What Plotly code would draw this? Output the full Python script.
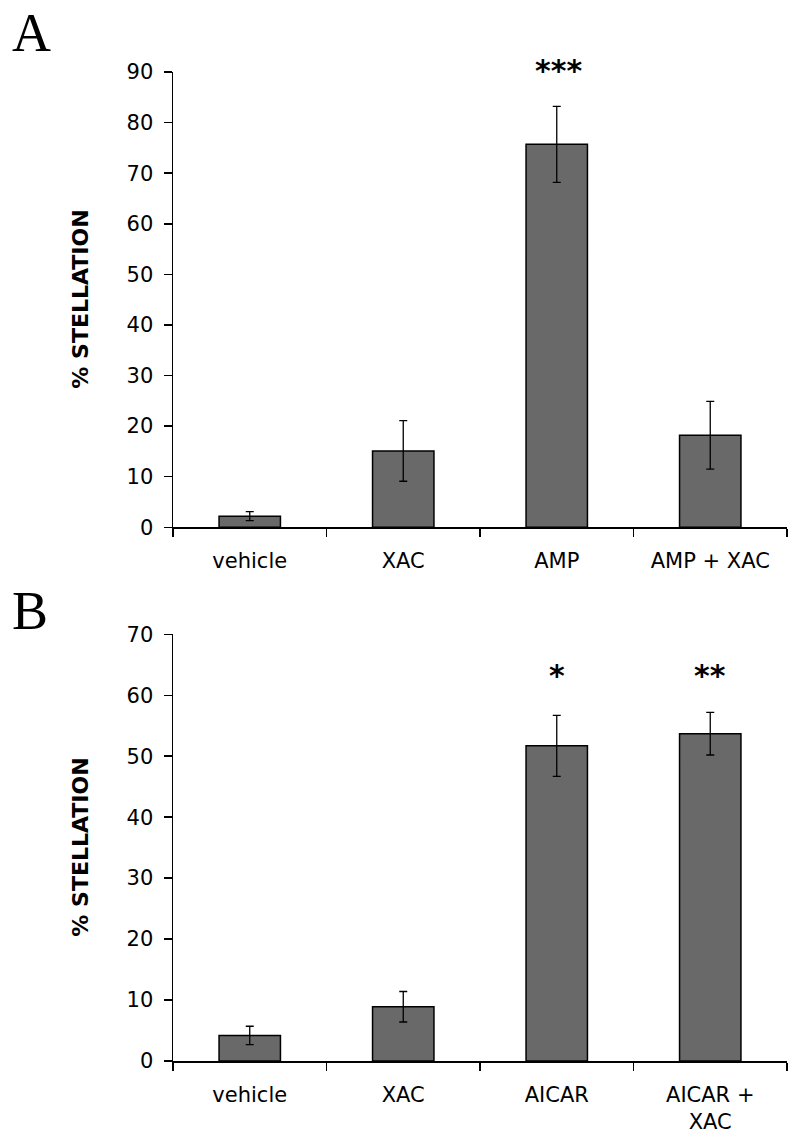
import plotly.graph_objects as go

# ---- data ----
cats_a = ["vehicle", "XAC", "AMP", "AMP + XAC"]
vals_a = [2.2, 15.1, 75.7, 18.2]
err_a = [0.9, 6.0, 7.5, 6.7]
sig_a = ["", "", "***", ""]

cats_b = ["vehicle", "XAC", "AICAR", "AICAR +<br>XAC"]
vals_b = [4.2, 8.9, 51.7, 53.7]
err_b = [1.5, 2.5, 5.0, 3.5]
sig_b = ["", "", "*", "**"]

W, H = 800, 1148
L, R = 173, 13
PW = W - L - R

def px_x(x):
    return (x - L) / PW

def px_y(y):
    return 1 - y / H

BAR = "#696969"
FONT = "DejaVu Sans"

fig = go.Figure()

fig.add_trace(go.Bar(
    x=cats_a, y=vals_a, width=0.4, xaxis="x", yaxis="y",
    marker=dict(color=BAR, line=dict(color="black", width=1.5)),
    error_y=dict(type="data", array=err_a, color="black", thickness=1.3, width=4),
    showlegend=False, hoverinfo="skip",
))
fig.add_trace(go.Bar(
    x=cats_b, y=vals_b, width=0.4, xaxis="x2", yaxis="y2",
    marker=dict(color=BAR, line=dict(color="black", width=1.5)),
    error_y=dict(type="data", array=err_b, color="black", thickness=1.3, width=4),
    showlegend=False, hoverinfo="skip",
))

xcommon = dict(
    showline=True, linecolor="black", linewidth=1.5,
    ticks="outside", ticklen=8, tickwidth=1.5, tickcolor="black",
    tickson="boundaries", showgrid=False, zeroline=False,
    tickfont=dict(family=FONT, size=21, color="black"),
    ticklabelstandoff=14,
    automargin=False, fixedrange=True,
)
ycommon = dict(
    showline=True, linecolor="black", linewidth=1.5,
    ticks="outside", ticklen=8, tickwidth=1.5, tickcolor="black",
    showgrid=False, zeroline=False, dtick=10,
    tickfont=dict(family=FONT, size=21, color="black"),
    ticklabelstandoff=6,
    automargin=False, fixedrange=True,
)

y1_dom = [px_y(527.3), px_y(72)]
y2_dom = [px_y(1061), px_y(634.3)]

fig.update_layout(
    width=W, height=H,
    margin=dict(l=L, r=R, t=0, b=0),
    paper_bgcolor="white", plot_bgcolor="white",
    template="none",
    xaxis=dict(domain=[0, 1], anchor="y", **xcommon),
    yaxis=dict(domain=y1_dom, range=[0, 90], anchor="x", **ycommon),
    xaxis2=dict(domain=[0, 1], anchor="y2", **xcommon),
    yaxis2=dict(domain=y2_dom, range=[0, 70], anchor="x2", **ycommon),
)

ann = []
for c, s in zip(cats_a, sig_a):
    if s:
        ann.append(dict(x=c, y=90.2 / 90, xref="x", yref="y domain", text="<b>" + s + "</b>",
                        showarrow=False, font=dict(family=FONT, size=30, color="black"),
                        yanchor="middle", xshift=2))
for c, s in zip(cats_b, sig_b):
    if s:
        ann.append(dict(x=c, y=63.2 / 70, xref="x2", yref="y2 domain", text="<b>" + s + "</b>",
                        showarrow=False, font=dict(family=FONT, size=30, color="black"),
                        yanchor="middle"))

for yc in [(72 + 527.3) / 2, (634.3 + 1061) / 2]:
    ann.append(dict(x=px_x(81), y=px_y(yc), xref="paper", yref="paper",
                    text="<b>% STELLATION</b>", textangle=-90, showarrow=False,
                    font=dict(family=FONT, size=22, color="black"),
                    xanchor="center", yanchor="middle"))

ann.append(dict(x=px_x(10), y=px_y(33), xref="paper", yref="paper", text="A",
                showarrow=False, xanchor="left", yanchor="middle",
                font=dict(family="Liberation Serif", size=54, color="black")))
ann.append(dict(x=px_x(10), y=px_y(611), xref="paper", yref="paper", text="B",
                showarrow=False, xanchor="left", yanchor="middle",
                font=dict(family="Liberation Serif", size=54, color="black")))

fig.update_layout(annotations=ann)

fig.write_html("out.html", config={"displayModeBar": False, "staticPlot": True},
               post_script="document.body.style.margin='0px';")
